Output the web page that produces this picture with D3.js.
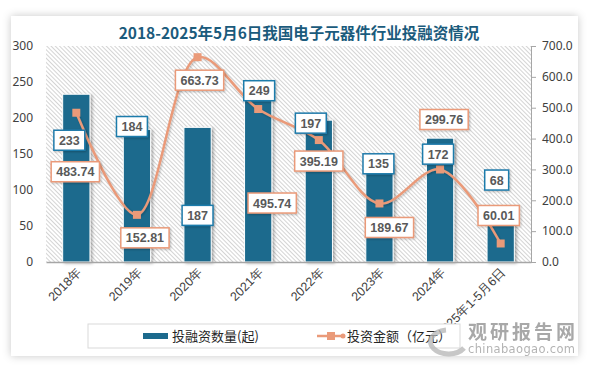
<!DOCTYPE html>
<html>
<head>
<meta charset="utf-8">
<script src="https://cdn.jsdelivr.net/npm/d3@7"></script>
<style>
  html, body { margin: 0; padding: 0; background: #fff; }
  svg { display: block; font-family: "Noto Sans CJK SC", "Noto Sans", sans-serif; }
</style>
</head>
<body>
<div id="chart"></div>
<script>
// chart values
const categories = ["2018年", "2019年", "2020年", "2021年", "2022年", "2023年", "2024年", "2025年1-5月6日"];
const dealCounts = [233, 184, 187, 249, 197, 135, 172, 68];
const dealAmounts = [483.74, 152.81, 663.73, 495.74, 395.19, 189.67, 299.76, 60.01];
const leftTicks = [0, 50, 100, 150, 200, 250, 300];
const rightTicks = [0, 100, 200, 300, 400, 500, 600, 700];

// label nudges (px) relative to the bar top / line point, to match the original layout
const countLabelShift = [[-7, 46], [-5, -3], [0, 88], [1, 8], [-8, 3], [-1, -1], [-2, 16], [-4, -33]];
const amountLabelShift = [[-1, 59], [8, 23], [2, 23], [14, 94], [0, 21], [10, 24], [4, -50], [-2, -28]];

const W = 589, H = 367;
const barColor = "#1c6a8d";
const lineColor = "#ea9a79";
const textColor = "#595959";

const svg = d3.select("#chart").append("svg")
  .attr("width", W).attr("height", H);

const defs = svg.append("defs");
const hatch = defs.append("pattern")
  .attr("id", "hatch")
  .attr("patternUnits", "userSpaceOnUse")
  .attr("width", 3).attr("height", 3)
  .attr("patternTransform", "rotate(-45)");
hatch.append("rect").attr("width", 3).attr("height", 3).attr("fill", "#fff");
hatch.append("line").attr("x1", 0.5).attr("y1", 0).attr("x2", 0.5).attr("y2", 3)
  .attr("stroke", "#cfcfcf").attr("stroke-width", 0.9);

const shadow = defs.append("filter").attr("id", "cardShadow")
  .attr("x", "-5%").attr("y", "-5%").attr("width", "110%").attr("height", "110%");
shadow.append("feDropShadow").attr("dx", 0).attr("dy", 0).attr("stdDeviation", 4)
  .attr("flood-color", "#000").attr("flood-opacity", 0.22);

const barShadow = defs.append("filter").attr("id", "barShadow")
  .attr("x", "-30%").attr("y", "-10%").attr("width", "160%").attr("height", "120%");
barShadow.append("feDropShadow").attr("dx", 2).attr("dy", 1).attr("stdDeviation", 1.5)
  .attr("flood-color", "#000").attr("flood-opacity", 0.3);

const lblShadow = defs.append("filter").attr("id", "lblShadow")
  .attr("x", "-20%").attr("y", "-20%").attr("width", "140%").attr("height", "150%");
lblShadow.append("feDropShadow").attr("dx", 1).attr("dy", 1).attr("stdDeviation", 1)
  .attr("flood-color", "#000").attr("flood-opacity", 0.25);

// card
svg.append("rect")
  .attr("x", 11).attr("y", 16).attr("width", 567).attr("height", 340)
  .attr("fill", "#fff").attr("filter", "url(#cardShadow)");

// title
svg.append("text")
  .attr("x", 299).attr("y", 39)
  .attr("text-anchor", "middle")
  .attr("font-size", 15.5).attr("font-weight", "bold")
  .attr("fill", "#1b5b7c")
  .text("2018-2025年5月6日我国电子元器件行业投融资情况");

const margin = { left: 46, right: 58, top: 46, bottom: 105 };
const plotW = W - margin.left - margin.right;
const plotH = H - margin.top - margin.bottom;

const x = d3.scaleBand().domain(categories).range([0, plotW]).paddingInner(0.55).paddingOuter(0.275);
const yL = d3.scaleLinear().domain([0, 300]).range([plotH, 0]);
const yR = d3.scaleLinear().domain([0, 700]).range([plotH, 0]);
const cx = d => x(d) + x.bandwidth() / 2;

const g = svg.append("g").attr("transform", `translate(${margin.left},${margin.top})`);

g.append("rect").attr("width", plotW).attr("height", plotH).attr("fill", "url(#hatch)");

// left axis (labels only)
const axL = g.append("g").call(d3.axisLeft(yL).tickValues(leftTicks).tickSize(0).tickPadding(13));
axL.select(".domain").remove();
axL.selectAll("text").attr("font-size", 12).attr("fill", "#404040")
  .attr("font-family", "'Noto Sans', sans-serif");

// right axis
const axR = g.append("g").attr("transform", `translate(${plotW},0)`)
  .call(d3.axisRight(yR).tickValues(rightTicks).tickFormat(d3.format(".1f")).tickSize(5).tickPadding(6));
axR.select(".domain").attr("stroke", "#a6a6a6");
axR.selectAll(".tick line").attr("stroke", "#a6a6a6");
axR.selectAll("text").attr("font-size", 12).attr("fill", "#404040")
  .attr("font-family", "'Noto Sans', sans-serif");

// bars
g.selectAll(".bar").data(categories).enter().append("rect")
  .attr("class", "bar")
  .attr("x", d => x(d))
  .attr("y", (d, i) => yL(dealCounts[i]))
  .attr("width", x.bandwidth())
  .attr("height", (d, i) => plotH - yL(dealCounts[i]))
  .attr("fill", barColor)
  .attr("stroke", "#fff").attr("stroke-width", 1)
  .attr("filter", "url(#barShadow)");

// x axis
const axB = g.append("g").attr("transform", `translate(0,${plotH})`)
  .call(d3.axisBottom(x).tickSize(0).tickPadding(0));
axB.select(".domain").attr("stroke", "#a6a6a6").attr("stroke-width", 1.5);
axB.selectAll("text")
  .attr("font-size", 12.5).attr("fill", "#404040")
  .attr("text-anchor", "end")
  .attr("dy", 0)
  .attr("transform", "translate(6,11) rotate(-45)");

// line
const line = d3.line()
  .x((d, i) => cx(categories[i]))
  .y(d => yR(d))
  .curve(d3.curveCatmullRom.alpha(0.5));
g.append("path").datum(dealAmounts)
  .attr("d", line)
  .attr("fill", "none").attr("stroke", lineColor).attr("stroke-width", 2.5)
  .attr("filter", "url(#lblShadow)");
g.selectAll(".mk").data(dealAmounts).enter().append("rect")
  .attr("class", "mk")
  .attr("x", (d, i) => cx(categories[i]) - 4)
  .attr("y", d => yR(d) - 4)
  .attr("width", 8).attr("height", 8)
  .attr("fill", lineColor);

// data labels
function addLabel(px, py, txt, border) {
  const lg = g.append("g").attr("transform", `translate(${px},${py})`);
  const t = lg.append("text")
    .attr("text-anchor", "middle").attr("dy", "0.36em")
    .attr("font-size", 12.5).attr("font-weight", "bold").attr("fill", textColor)
    .attr("font-family", "'Liberation Sans', sans-serif")
    .text(txt);
  const bb = t.node().getBBox();
  lg.insert("rect", "text")
    .attr("x", -bb.width / 2 - 5).attr("y", -10)
    .attr("width", bb.width + 10).attr("height", 20)
    .attr("fill", "#fff").attr("stroke", border).attr("stroke-width", 1.5)
    .attr("filter", "url(#lblShadow)");
}
dealCounts.forEach((v, i) => {
  const s = countLabelShift[i];
  addLabel(cx(categories[i]) + s[0], yL(v) + s[1], String(v), "#1f7bab");
});
dealAmounts.forEach((v, i) => {
  const s = amountLabelShift[i];
  addLabel(cx(categories[i]) + s[0], yR(v) + s[1], v.toFixed(2), lineColor);
});

// legend
const lgd = svg.append("g");
lgd.append("rect").attr("x", 88).attr("y", 324).attr("width", 372).attr("height", 24)
  .attr("fill", "#fff").attr("stroke", "#d9d9d9");
lgd.append("rect").attr("x", 143).attr("y", 333).attr("width", 25).attr("height", 6).attr("fill", barColor);
lgd.append("text").attr("x", 172).attr("y", 341).attr("font-size", 13).attr("fill", "#262626")
  .text("投融资数量(起)");
lgd.append("line").attr("x1", 317).attr("x2", 345).attr("y1", 336).attr("y2", 336)
  .attr("stroke", lineColor).attr("stroke-width", 2.5);
lgd.append("rect").attr("x", 327).attr("y", 332).attr("width", 8).attr("height", 8).attr("fill", lineColor);
lgd.append("circle").attr("cx", 343).attr("cy", 336).attr("r", 2.5).attr("fill", lineColor);
lgd.append("text").attr("x", 347).attr("y", 341).attr("font-size", 13).attr("fill", "#262626")
  .text("投资金额（亿元）");

// watermark
const wm = svg.append("g").attr("opacity", 0.75);
wm.append("path")
  .attr("d", "M446,330 a18,12 0 1,0 18,18")
  .attr("fill", "none").attr("stroke", "#b5b5b5").attr("stroke-width", 5);
wm.append("text").attr("x", 468).attr("y", 339).attr("font-size", 19).attr("font-weight", "bold")
  .attr("fill", "#8c8c8c").attr("textLength", 107).text("观研报告网");
wm.append("text").attr("x", 468).attr("y", 353).attr("font-size", 11.5)
  .attr("fill", "#9a9a9a").attr("textLength", 107).attr("font-family", "'DejaVu Sans', sans-serif")
  .text("chinabaogao.com");
</script>
</body>
</html>
